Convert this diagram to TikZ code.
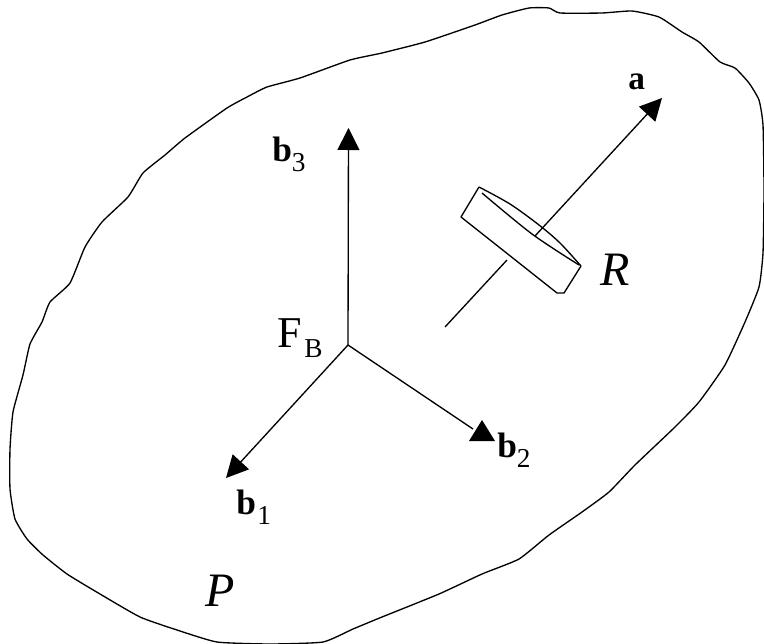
\documentclass[tikz,border=0pt]{standalone}
\usepackage{fontspec}
\setmainfont{Liberation Serif}
\usetikzlibrary{arrows.meta}
\newcommand{\lowsub}[2]{\kern#1pt\raisebox{-7.7pt}{\normalfont\fontsize{20.5}{20.5}\selectfont #2}}
\tikzset{
  x=0.75pt,y=-0.75pt,
  line/.style={line width=1pt,black,line join=round},
  arrowline/.style={line,-{Triangle[length=16.5pt,width=16.5pt]}},
  lab/.style={inner sep=0pt,anchor=base west,text=black},
  big/.style={font=\fontsize{33}{33}\selectfont},
  vec/.style={font=\fontsize{26.5}{26.5}\selectfont\bfseries},
  vecsmall/.style={font=\fontsize{25}{25}\selectfont\bfseries},
  ital/.style={font=\fontsize{36}{36}\selectfont\itshape}
}
\begin{document}
\begin{tikzpicture}
\useasboundingbox (0,0) rectangle (764,643);
% body P
\begin{scope}
\clip (0,0) rectangle (764,643);
\draw[line] plot[smooth cycle,tension=0.3] coordinates {
 (529,8) (549,8) (560,13) (602,13) (632,11) (659,17) (682,32) (699,42) (720,62)
 (735,68) (749,83) (759,100) (763,125) (764,190) (763,253) (759,287) (745,322)
 (725,365) (699,402) (675,427) (635,465) (609,492) (582,512) (549,535) (519,559)
 (482,574) (439,594) (382,617) (353,629) (323,642) (270,644) (217,642) (177,630)
 (140,617) (100,594) (67,574) (43,555) (27,539) (15,519) (10,489) (10,449) (13,412)
 (23,375) (30,344) (42,322) (50,302) (70,283) (85,247) (102,222) (128,197) (143,173)
 (165,155) (185,138) (227,108) (247,97) (267,87) (300,78) (350,60) (382,53) (425,42)
 (475,25) (502,15)};
\end{scope}
% frame
\coordinate (O) at (348,345);
\coordinate (B3) at (348.5,128);
\coordinate (B1) at (226,478);
\coordinate (B2s) at (473,429);
\coordinate (A) at (662,98);
\coordinate (Afrom) at (535,236);
\coordinate (Aend) at (445,327);
\coordinate (Ain) at (507,260);
\draw[arrowline] (O) -- (B3);
\draw[arrowline] (O) -- (B1);
\draw[line] (O) -- (B2s);
\coordinate (T1) at (482,420);
\coordinate (T2) at (469,441);
\coordinate (T3) at (495,441);
\fill[black] (T1) -- (T2) -- (T3) -- cycle;
% rotor axis
\draw[arrowline] (Afrom) -- (A);
\draw[line] (Aend) -- (Ain);
% rotor disc
\coordinate (D1) at (479,187);
\coordinate (D2) at (461,217);
\coordinate (D3) at (557,293);
\coordinate (D4) at (564,293);
\coordinate (D5) at (581,266);
\coordinate (D6) at (482,193);
\coordinate (D7) at (579,265);
\draw[line] (D1) -- (D2) -- (D3) -- (D4) -- (D5);
\draw[line] plot[smooth,tension=0.5] coordinates {(D1) (510,204) (539,225) (560,243) (D5)};
\draw[line] plot[smooth,tension=0.5] coordinates {(D6) (532,234) (D7)};
% labels
\node[lab,vecsmall] (la) at (628,89) {a};
\node[lab,vec] (lb3) at (272,161) {b\lowsub{0}{3}};
\node[lab,big] (lF) at (277,347) {F\lowsub{2}{B}};
\node[lab,vec] (lb1) at (236,514) {b\lowsub{1}{1}};
\node[lab,vec] (lb2) at (497,457) {b\lowsub{0}{2}};
\node[lab,ital] (lR) at (600,285) {R};
\node[lab,ital] (lP) at (205,606) {P};
\end{tikzpicture}
\end{document}
